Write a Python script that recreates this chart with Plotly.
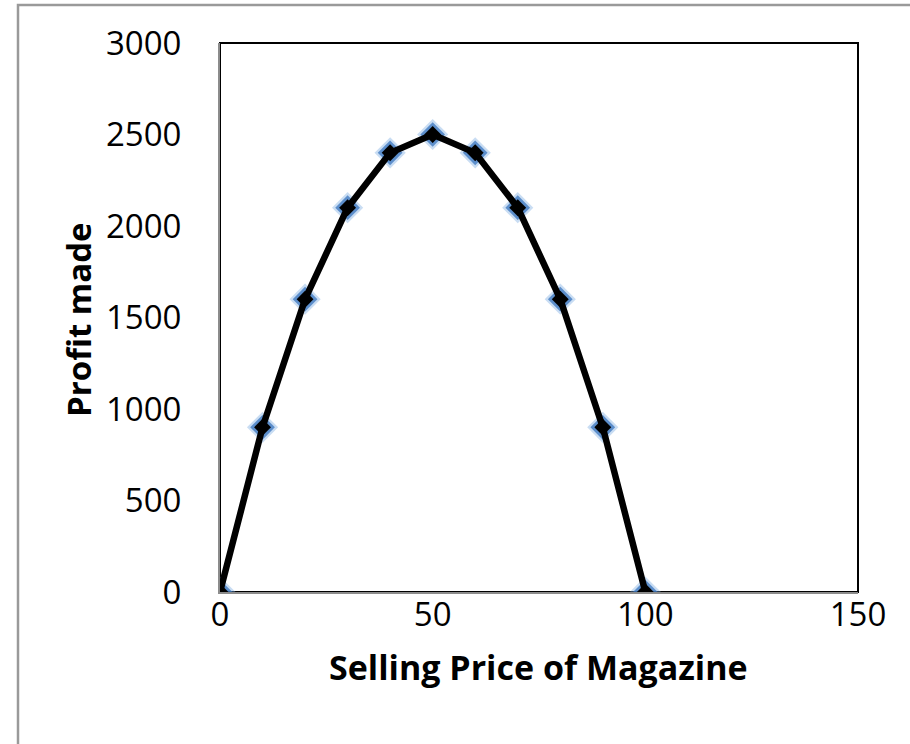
import plotly.graph_objects as go

# Selling price (x) and resulting profit (y)
price = [0, 10, 20, 30, 40, 50, 60, 70, 80, 90, 100]
profit = [0, 900, 1600, 2100, 2400, 2500, 2400, 2100, 1600, 900, 0]

x_ticks = [0, 50, 100, 150]
y_ticks = [0, 500, 1000, 1500, 2000, 2500, 3000]

FONT = "Open Sans"

fig = go.Figure()

# soft blue halo under each marker
fig.add_trace(go.Scatter(
    x=price, y=profit, mode="markers",
    marker=dict(symbol="diamond", size=24, color="rgba(120,170,225,0.4)", line=dict(width=0)),
    hoverinfo="skip", showlegend=False,
))
fig.add_trace(go.Scatter(
    x=price, y=profit, mode="markers",
    marker=dict(symbol="diamond", size=19, color="rgba(55,115,190,0.75)", line=dict(width=0)),
    hoverinfo="skip", showlegend=False,
))
# profit curve with black diamond markers
fig.add_trace(go.Scatter(
    x=price, y=profit, mode="lines+markers",
    line=dict(color="black", width=6.5),
    marker=dict(symbol="diamond", size=13, color="black", line=dict(width=0)),
    showlegend=False,
))

fig.update_layout(
    width=910, height=744,
    margin=dict(l=220, r=52, t=43, b=152),
    paper_bgcolor="white", plot_bgcolor="white",
    font=dict(family=FONT, color="black"),
    xaxis=dict(
        range=[0, 150], tickvals=x_ticks, showgrid=False, zeroline=False,
        showline=True, linecolor="#8c8c8c", linewidth=2,
        ticks="", tickfont=dict(size=33, family=FONT), ticklabelstandoff=-8,
    ),
    yaxis=dict(
        range=[0, 3000], tickvals=y_ticks, showgrid=False, zeroline=False,
        showline=True, linecolor="#8c8c8c", linewidth=2,
        ticks="", tickfont=dict(size=33, family=FONT), ticklabelstandoff=30,
    ),
    shapes=[
        # plot-area frame
        dict(type="rect", xref="paper", yref="paper", x0=0, y0=0, x1=1, y1=1,
             line=dict(color="black", width=2), layer="below"),
        # outer chart frame
        dict(type="rect", xref="paper", yref="paper",
             x0=(18 - 220) / 638, y0=-1.0, x1=2.0, y1=(592 - 5) / 549,
             line=dict(color="#9a9a9a", width=2.5), layer="below"),
    ],
    annotations=[
        dict(text="<b>Selling Price of Magazine</b>", xref="paper", yref="paper",
             x=(538 - 220) / 638, y=(592 - 667) / 549, showarrow=False,
             font=dict(size=34, family=FONT), xanchor="center", yanchor="middle"),
        dict(text="<b>Profit made</b>", xref="paper", yref="paper",
             x=(78 - 220) / 638, y=(592 - 320) / 549, showarrow=False, textangle=-90,
             font=dict(size=33, family=FONT), xanchor="center", yanchor="middle"),
    ],
)

fig.write_html("out.html")
